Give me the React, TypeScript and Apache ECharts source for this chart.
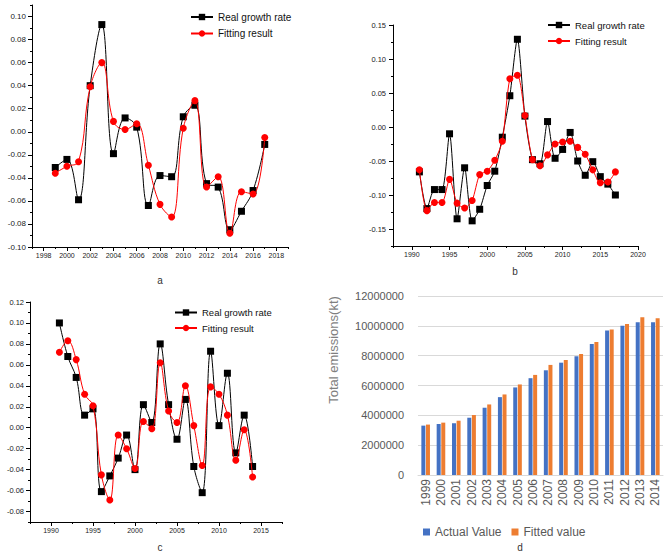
import React, { useEffect, useRef } from "react";
import * as echarts from "echarts";

// ---------- Panel a ----------
const A_YEARS = [1999, 2000, 2001, 2002, 2003, 2004, 2005, 2006, 2007, 2008, 2009, 2010, 2011, 2012, 2013, 2014, 2015, 2016, 2017];
const A_REAL = [-0.031, -0.024, -0.059, 0.040, 0.093, -0.019, 0.012, 0.004, -0.064, -0.038, -0.039, 0.013, 0.023, -0.045, -0.048, -0.085, -0.069, -0.051, -0.011];
const A_FIT = [-0.036, -0.030, -0.026, 0.039, 0.060, 0.009, 0.002, 0.007, -0.029, -0.063, -0.074, 0.003, 0.027, -0.048, -0.039, -0.088, -0.052, -0.054, -0.005];
const A_X_TICKS = [1998, 2000, 2002, 2004, 2006, 2008, 2010, 2012, 2014, 2016, 2018];
const A_X_MINOR = [1997, 1999, 2001, 2003, 2005, 2007, 2009, 2011, 2013, 2015, 2017, 2019];
const A_Y_TICKS = [-0.10, -0.08, -0.06, -0.04, -0.02, 0, 0.02, 0.04, 0.06, 0.08, 0.10];
const A_Y_MINOR = [-0.09, -0.07, -0.05, -0.03, -0.01, 0.01, 0.03, 0.05, 0.07, 0.09, 0.11];

// ---------- Panel b ----------
const B_YEARS = [1991, 1992, 1993, 1994, 1995, 1996, 1997, 1998, 1999, 2000, 2001, 2002, 2003, 2004, 2005, 2006, 2007, 2008, 2009, 2010, 2011, 2012, 2013, 2014, 2015, 2016, 2017];
const B_REAL = [-0.066, -0.120, -0.092, -0.092, -0.010, -0.135, -0.060, -0.138, -0.121, -0.086, -0.065, -0.015, 0.046, 0.129, 0.016, -0.048, -0.054, 0.008, -0.046, -0.033, -0.008, -0.050, -0.071, -0.051, -0.073, -0.084, -0.100];
const B_FIT = [-0.063, -0.123, -0.111, -0.111, -0.077, -0.112, -0.119, -0.108, -0.070, -0.065, -0.049, -0.021, 0.071, 0.076, 0.017, -0.048, -0.057, -0.041, -0.025, -0.022, -0.021, -0.030, -0.040, -0.063, -0.082, -0.081, -0.066];
const B_X_TICKS = [1990, 1995, 2000, 2005, 2010, 2015, 2020];
const B_X_MINOR = [1987.5, 1992.5, 1997.5, 2002.5, 2007.5, 2012.5, 2017.5];
const B_Y_TICKS = [-0.15, -0.10, -0.05, 0, 0.05, 0.10, 0.15];
const B_Y_MINOR = [-0.175, -0.125, -0.075, -0.025, 0.025, 0.075, 0.125];

// ---------- Panel c ----------
const C_YEARS = [1991, 1992, 1993, 1994, 1995, 1996, 1997, 1998, 1999, 2000, 2001, 2002, 2003, 2004, 2005, 2006, 2007, 2008, 2009, 2010, 2011, 2012, 2013, 2014];
const C_REAL = [0.100, 0.068, 0.048, 0.012, 0.018, -0.061, -0.046, -0.029, -0.007, -0.040, 0.022, 0.005, 0.080, 0.022, -0.011, 0.027, -0.037, -0.062, 0.073, 0.002, 0.052, -0.024, 0.012, -0.037];
const C_FIT = [0.072, 0.083, 0.065, 0.032, 0.021, -0.045, -0.069, -0.007, -0.020, -0.039, 0.006, -0.001, 0.062, 0.016, 0.005, 0.040, 0.002, -0.036, 0.039, 0.032, 0.012, -0.031, -0.002, -0.047];
const C_X_TICKS = [1990, 1995, 2000, 2005, 2010, 2015];
const C_X_MINOR = [1987.5, 1992.5, 1997.5, 2002.5, 2007.5, 2012.5, 2017.5];
const C_Y_TICKS = [-0.08, -0.06, -0.04, -0.02, 0, 0.02, 0.04, 0.06, 0.08, 0.10, 0.12];
const C_Y_MINOR = [-0.09, -0.07, -0.05, -0.03, -0.01, 0.01, 0.03, 0.05, 0.07, 0.09, 0.11];

// ---------- Panel d ----------
const D_YEARS = ["1999", "2000", "2001", "2002", "2003", "2004", "2005", "2006", "2007", "2008", "2009", "2010", "2011", "2012", "2013", "2014"];
const D_ACTUAL = [3310000, 3420000, 3470000, 3840000, 4510000, 5220000, 5870000, 6490000, 7020000, 7530000, 7960000, 8780000, 9690000, 10000000, 10240000, 10240000];
const D_FITTED = [3380000, 3510000, 3640000, 4020000, 4730000, 5400000, 6070000, 6710000, 7380000, 7710000, 8110000, 8910000, 9760000, 10130000, 10580000, 10510000];

const REAL = "Real growth rate";
const FIT = "Fitting result";
const FONT = "Liberation Sans";

function pairs(xs: number[], ys: number[]) {
  return xs.map((x, i) => [x, ys[i]]);
}

function originAxes(
  grid: number,
  xr: [number, number], xMaj: number[], xMin: number[],
  yr: [number, number], yMaj: number[], yMin: number[],
  xFont: number, yFont: number, xMargin: number, yMargin: number, yDigits: number
) {
  const line = { show: true, onZero: false, lineStyle: { color: "#000", width: 1 } };
  const xAxis = [
    {
      type: "value", gridIndex: grid, min: xr[0], max: xr[1], position: "bottom",
      axisLine: line,
      axisTick: { show: true, inside: false, length: 4, customValues: xMaj, lineStyle: { color: "#000" } },
      axisLabel: {
        customValues: xMaj, fontSize: xFont, color: "#222", margin: xMargin, fontFamily: FONT,
        formatter: (v: number) => String(v),
      },
      splitLine: { show: false },
    },
    {
      type: "value", gridIndex: grid, min: xr[0], max: xr[1], position: "bottom",
      axisLine: { show: false, onZero: false },
      axisTick: { show: true, inside: false, length: 2, customValues: xMin, lineStyle: { color: "#000" } },
      axisLabel: { show: false },
      splitLine: { show: false },
    },
  ];
  const yAxis = [
    {
      type: "value", gridIndex: grid, min: yr[0], max: yr[1], position: "left",
      axisLine: line,
      axisTick: { show: true, inside: false, length: 4, customValues: yMaj, lineStyle: { color: "#000" } },
      axisLabel: {
        customValues: yMaj, fontSize: yFont, color: "#222", margin: yMargin, fontFamily: FONT,
        formatter: (v: number) => v.toFixed(yDigits),
      },
      splitLine: { show: false },
    },
    {
      type: "value", gridIndex: grid, min: yr[0], max: yr[1], position: "left",
      axisLine: { show: false, onZero: false },
      axisTick: { show: true, inside: false, length: 2, customValues: yMin, lineStyle: { color: "#000" } },
      axisLabel: { show: false },
      splitLine: { show: false },
    },
  ];
  return { xAxis, yAxis };
}

function lineSeries(name: string, axisIdx: number, data: number[][], smooth: number) {
  const isReal = name === REAL;
  const color = isReal ? "#000000" : "#ff0000";
  return {
    type: "line", name, xAxisIndex: axisIdx, yAxisIndex: axisIdx, data, smooth,
    symbol: isReal ? "rect" : "circle",
    symbolSize: isReal ? 7 : 7,
    itemStyle: { color },
    lineStyle: { color, width: 1 },
    z: isReal ? 2 : 3,
  };
}

function legendFor(left: number, top: number, gap: number, size: number) {
  return {
    data: [REAL, FIT], orient: "vertical", left, top, itemWidth: 22, itemHeight: 8, itemGap: gap,
    textStyle: { fontSize: size, color: "#111", fontFamily: FONT },
  };
}

export default function App() {
  const ref = useRef<HTMLDivElement>(null);
  useEffect(() => {
    if (!ref.current) return;
    const chart = echarts.init(ref.current, null, { renderer: "svg" });

    const a = originAxes(0, [1997, 2019], A_X_TICKS, A_X_MINOR, [-0.10, 0.11], A_Y_TICKS, A_Y_MINOR, 7, 8, 5, 6, 2);
    const b = originAxes(1, [1987.5, 2020], B_X_TICKS, B_X_MINOR, [-0.175, 0.15], B_Y_TICKS, B_Y_MINOR, 7, 7.5, 5, 7, 2);
    const c = originAxes(2, [1987.5, 2017.5], C_X_TICKS, C_X_MINOR, [-0.09, 0.12], C_Y_TICKS, C_Y_MINOR, 7, 7.5, 5, 6, 2);

    const option = {
      animation: false,
      backgroundColor: "#ffffff",
      textStyle: { fontFamily: FONT },
      grid: [
        { left: 32, top: 5, width: 256, height: 242 },
        { left: 393, top: 25, width: 245, height: 221 },
        { left: 30, top: 302, width: 252, height: 220 },
        { left: 418, top: 296, width: 245, height: 179 },
      ],
      xAxis: [
        ...a.xAxis, ...b.xAxis, ...c.xAxis,
        {
          type: "category", gridIndex: 3, data: D_YEARS,
          axisLine: { show: true, lineStyle: { color: "#d9d9d9" } },
          axisTick: { show: false },
          axisLabel: { rotate: 90, fontSize: 12, color: "#595959", margin: 4, interval: 0, fontFamily: FONT },
        },
      ],
      yAxis: [
        ...a.yAxis, ...b.yAxis, ...c.yAxis,
        {
          type: "value", gridIndex: 3, min: 0, max: 12000000, interval: 2000000,
          axisLine: { show: false }, axisTick: { show: false },
          axisLabel: { fontSize: 11, color: "#595959", margin: 14, fontFamily: FONT, formatter: (v: number) => String(v) },
          splitLine: { show: true, lineStyle: { color: "#d9d9d9", width: 1 } },
        },
      ],
      legend: [
        legendFor(185, 7, 6.5, 10),
        legendFor(542, 15, 6, 9.5),
        legendFor(169, 302.5, 5.5, 9.5),
        {
          data: ["Actual Value", "Fitted value"], orient: "horizontal", left: 418, top: 521,
          icon: "rect", itemWidth: 7, itemHeight: 7, itemGap: 10,
          textStyle: { fontSize: 12, color: "#595959", fontFamily: FONT },
        },
      ],
      series: [
        lineSeries(REAL, 0, pairs(A_YEARS, A_REAL), 0.4),
        lineSeries(FIT, 0, pairs(A_YEARS, A_FIT), 0.4),
        lineSeries(REAL, 2, pairs(B_YEARS, B_REAL), 0.25),
        lineSeries(FIT, 2, pairs(B_YEARS, B_FIT), 0.25),
        lineSeries(REAL, 4, pairs(C_YEARS, C_REAL), 0.4),
        lineSeries(FIT, 4, pairs(C_YEARS, C_FIT), 0.4),
        {
          type: "bar", name: "Actual Value", xAxisIndex: 6, yAxisIndex: 6, data: D_ACTUAL,
          barWidth: 4, barGap: "15%", itemStyle: { color: "#4472c4" },
        },
        {
          type: "bar", name: "Fitted value", xAxisIndex: 6, yAxisIndex: 6, data: D_FITTED,
          barWidth: 4, barGap: "15%", itemStyle: { color: "#ed7d31" },
        },
      ],
      graphic: [
        { type: "text", x: 160, y: 280, style: { text: "a", fontSize: 10, fill: "#333", align: "center", verticalAlign: "middle", fontFamily: FONT } },
        { type: "text", x: 515, y: 271, style: { text: "b", fontSize: 10, fill: "#333", align: "center", verticalAlign: "middle", fontFamily: FONT } },
        { type: "text", x: 160, y: 547, style: { text: "c", fontSize: 10, fill: "#333", align: "center", verticalAlign: "middle", fontFamily: FONT } },
        { type: "text", x: 520, y: 547, style: { text: "d", fontSize: 10, fill: "#333", align: "center", verticalAlign: "middle", fontFamily: FONT } },
        {
          type: "text", x: 333, y: 350, rotation: Math.PI / 2,
          style: { text: "Total emissions(kt)", fontSize: 13, fill: "#7f7f7f", align: "center", verticalAlign: "middle", fontFamily: FONT },
        },
      ],
    };
    chart.setOption(option as any);
    return () => chart.dispose();
  }, []);
  return (
    <div
      ref={ref}
      style={{ position: "fixed", left: 0, top: 0, width: 668, height: 555, background: "#fff" }}
    />
  );
}
